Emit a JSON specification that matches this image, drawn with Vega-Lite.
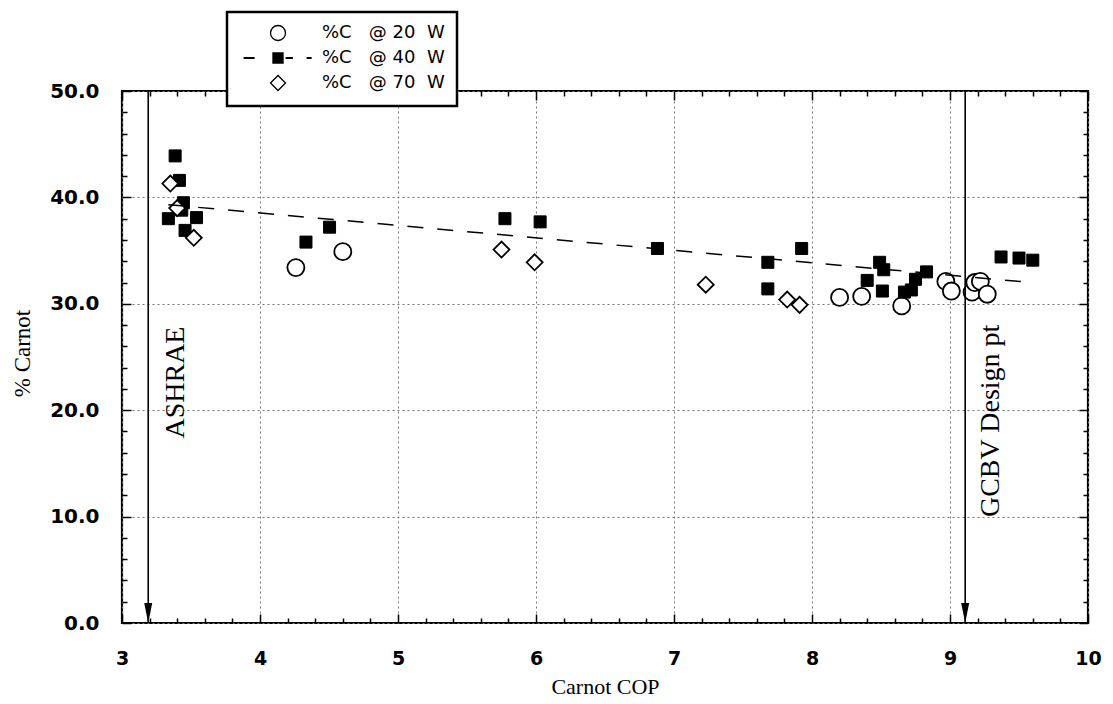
{
  "$schema": "https://vega.github.io/schema/vega-lite/v6.json",
  "width": 966,
  "height": 532,
  "autosize": "none",
  "padding": {"left": 122, "top": 91, "right": 25, "bottom": 81},
  "background": "white",
  "config": {
    "view": {"stroke": "black", "strokeWidth": 2.2},
    "font": "Liberation Sans",
    "axis": {"domain": false, "labelColor": "black", "tickColor": "black", "tickWidth": 1.5, "titleColor": "black"}
  },
  "datasets": {
    "pts": [
      {"cop": 4.26, "pct": 33.4, "series": "%C @ 20 W"},
      {"cop": 4.60, "pct": 34.9, "series": "%C @ 20 W"},
      {"cop": 8.20, "pct": 30.6, "series": "%C @ 20 W"},
      {"cop": 8.36, "pct": 30.7, "series": "%C @ 20 W"},
      {"cop": 8.65, "pct": 29.8, "series": "%C @ 20 W"},
      {"cop": 8.97, "pct": 32.1, "series": "%C @ 20 W"},
      {"cop": 9.01, "pct": 31.2, "series": "%C @ 20 W"},
      {"cop": 9.16, "pct": 31.1, "series": "%C @ 20 W"},
      {"cop": 9.18, "pct": 32.0, "series": "%C @ 20 W"},
      {"cop": 9.22, "pct": 32.1, "series": "%C @ 20 W"},
      {"cop": 9.27, "pct": 30.9, "series": "%C @ 20 W"},
      {"cop": 3.385, "pct": 43.9, "series": "%C @ 40 W"},
      {"cop": 3.416, "pct": 41.6, "series": "%C @ 40 W"},
      {"cop": 3.445, "pct": 39.5, "series": "%C @ 40 W"},
      {"cop": 3.433, "pct": 38.8, "series": "%C @ 40 W"},
      {"cop": 3.336, "pct": 38.0, "series": "%C @ 40 W"},
      {"cop": 3.54, "pct": 38.1, "series": "%C @ 40 W"},
      {"cop": 3.457, "pct": 36.9, "series": "%C @ 40 W"},
      {"cop": 4.333, "pct": 35.8, "series": "%C @ 40 W"},
      {"cop": 4.504, "pct": 37.2, "series": "%C @ 40 W"},
      {"cop": 5.775, "pct": 38.0, "series": "%C @ 40 W"},
      {"cop": 6.03, "pct": 37.7, "series": "%C @ 40 W"},
      {"cop": 6.88, "pct": 35.2, "series": "%C @ 40 W"},
      {"cop": 7.68, "pct": 33.9, "series": "%C @ 40 W"},
      {"cop": 7.68, "pct": 31.4, "series": "%C @ 40 W"},
      {"cop": 7.925, "pct": 35.2, "series": "%C @ 40 W"},
      {"cop": 8.40, "pct": 32.2, "series": "%C @ 40 W"},
      {"cop": 8.49, "pct": 33.9, "series": "%C @ 40 W"},
      {"cop": 8.52, "pct": 33.2, "series": "%C @ 40 W"},
      {"cop": 8.51, "pct": 31.2, "series": "%C @ 40 W"},
      {"cop": 8.67, "pct": 31.1, "series": "%C @ 40 W"},
      {"cop": 8.72, "pct": 31.3, "series": "%C @ 40 W"},
      {"cop": 8.75, "pct": 32.3, "series": "%C @ 40 W"},
      {"cop": 8.83, "pct": 33.0, "series": "%C @ 40 W"},
      {"cop": 9.37, "pct": 34.4, "series": "%C @ 40 W"},
      {"cop": 9.50, "pct": 34.3, "series": "%C @ 40 W"},
      {"cop": 9.60, "pct": 34.1, "series": "%C @ 40 W"},
      {"cop": 3.35, "pct": 41.3, "series": "%C @ 70 W"},
      {"cop": 3.40, "pct": 39.0, "series": "%C @ 70 W"},
      {"cop": 3.52, "pct": 36.2, "series": "%C @ 70 W"},
      {"cop": 5.75, "pct": 35.1, "series": "%C @ 70 W"},
      {"cop": 5.99, "pct": 33.9, "series": "%C @ 70 W"},
      {"cop": 7.23, "pct": 31.8, "series": "%C @ 70 W"},
      {"cop": 7.82, "pct": 30.4, "series": "%C @ 70 W"},
      {"cop": 7.91, "pct": 29.9, "series": "%C @ 70 W"}
    ],
    "arrows": [
      {"cop": 3.19, "label": "ASHRAE", "tx": 3.39, "ty": 22.6},
      {"cop": 9.11, "label": "GCBV Design pt", "tx": 9.30, "ty": 19.0}
    ]
  },
  "resolve": {"axis": {"x": "independent", "y": "independent"}},
  "layer": [
    {
      "data": {"name": "pts"},
      "transform": [{"filter": "datum.series === '%C @ 20 W'"}],
      "mark": {"type": "point", "shape": "circle", "size": 290, "filled": true, "fill": "white", "stroke": "black", "strokeWidth": 1.8, "opacity": 1},
      "encoding": {
        "x": {"field": "cop", "type": "quantitative", "scale": {"domain": [3, 10]},
          "axis": {"orient": "bottom", "values": [3, 4, 5, 6, 7, 8, 9, 10], "format": "d", "grid": true, "gridColor": "#777", "gridDash": [2, 3], "gridWidth": 1,
            "tickSize": -9, "labelPadding": 44, "labelBaseline": "middle", "labelFont": "DejaVu Sans", "labelFontWeight": "bold", "labelFontSize": 19,
            "labelFlush": false, "labelOverlap": false,
            "title": "Carnot COP", "titleColor": "black", "titleFont": "Liberation Serif", "titleFontSize": 22, "titleFontWeight": "normal", "titleX": 483, "titleY": 63, "titleBaseline": "middle", "titleAlign": "center"}},
        "y": {"field": "pct", "type": "quantitative", "scale": {"domain": [0, 50]},
          "axis": {"orient": "left", "values": [0, 10, 20, 30, 40, 50], "format": ".1f", "grid": true, "gridColor": "#777", "gridDash": [2, 3], "gridWidth": 1,
            "tickSize": -9, "labelPadding": 32, "labelBaseline": "middle", "labelFont": "DejaVu Sans", "labelFontWeight": "bold", "labelFontSize": 20,
            "labelFlush": false, "labelOverlap": false,
            "title": "% Carnot", "titleColor": "black", "titleFont": "Liberation Serif", "titleFontSize": 23, "titleFontWeight": "normal", "titleX": -100, "titleY": 262, "titleAngle": 270, "titleBaseline": "middle", "titleAlign": "center"}}
      }
    },
    {
      "data": {"name": "pts"},
      "transform": [{"filter": "datum.series === '%C @ 40 W'"}],
      "mark": {"type": "point", "shape": "square", "size": 144, "filled": true, "fill": "black", "stroke": "black", "strokeWidth": 1, "opacity": 1},
      "encoding": {
        "x": {"field": "cop", "type": "quantitative", "scale": {"domain": [3, 10]},
          "axis": {"orient": "bottom", "values": [3.2, 3.4, 3.6, 3.8, 4.2, 4.4, 4.6, 4.8, 5.2, 5.4, 5.6, 5.8, 6.2, 6.4, 6.6, 6.8, 7.2, 7.4, 7.6, 7.8, 8.2, 8.4, 8.6, 8.8, 9.2, 9.4, 9.6, 9.8], "grid": false, "labels": false, "tickSize": -5, "title": null}},
        "y": {"field": "pct", "type": "quantitative", "scale": {"domain": [0, 50]},
          "axis": {"orient": "left", "values": [2, 4, 6, 8, 12, 14, 16, 18, 22, 24, 26, 28, 32, 34, 36, 38, 42, 44, 46, 48], "grid": false, "labels": false, "tickSize": -5, "title": null}}
      }
    },
    {
      "data": {"name": "pts"},
      "transform": [{"filter": "datum.series === '%C @ 70 W'"}],
      "mark": {"type": "point", "shape": "diamond", "size": 256, "filled": true, "fill": "white", "stroke": "black", "strokeWidth": 1.8, "opacity": 1},
      "encoding": {
        "x": {"field": "cop", "type": "quantitative", "scale": {"domain": [3, 10]},
          "axis": {"orient": "top", "values": [3, 4, 5, 6, 7, 8, 9, 10], "grid": false, "labels": false, "tickSize": -9, "title": null}},
        "y": {"field": "pct", "type": "quantitative", "scale": {"domain": [0, 50]},
          "axis": {"orient": "right", "values": [0, 10, 20, 30, 40, 50], "grid": false, "labels": false, "tickSize": -9, "title": null}}
      }
    },
    {
      "data": {"name": "pts"},
      "transform": [
        {"filter": "datum.series === '%C @ 40 W'"},
        {"regression": "pct", "on": "cop"}
      ],
      "mark": {"type": "line", "color": "black", "strokeWidth": 1.5, "strokeDash": [16, 14]},
      "encoding": {
        "x": {"field": "cop", "type": "quantitative", "scale": {"domain": [3, 10]},
          "axis": {"orient": "top", "values": [3.2, 3.4, 3.6, 3.8, 4.2, 4.4, 4.6, 4.8, 5.2, 5.4, 5.6, 5.8, 6.2, 6.4, 6.6, 6.8, 7.2, 7.4, 7.6, 7.8, 8.2, 8.4, 8.6, 8.8, 9.2, 9.4, 9.6, 9.8], "grid": false, "labels": false, "tickSize": -5, "title": null}},
        "y": {"field": "pct", "type": "quantitative", "scale": {"domain": [0, 50]},
          "axis": {"orient": "right", "values": [2, 4, 6, 8, 12, 14, 16, 18, 22, 24, 26, 28, 32, 34, 36, 38, 42, 44, 46, 48], "grid": false, "labels": false, "tickSize": -5, "title": null}}
      }
    },
    {
      "data": {"name": "arrows"},
      "mark": {"type": "rule", "color": "black", "strokeWidth": 1.6},
      "encoding": {
        "x": {"field": "cop", "type": "quantitative", "axis": null}
      }
    },
    {
      "data": {"name": "arrows"},
      "mark": {"type": "point", "shape": "M-0.4,-2L0.4,-2L0,0Z", "size": 400, "filled": true, "fill": "black", "strokeWidth": 0, "opacity": 1},
      "encoding": {
        "x": {"field": "cop", "type": "quantitative", "axis": null},
        "y": {"datum": 0, "type": "quantitative", "axis": null}
      }
    },
    {
      "data": {"name": "arrows"},
      "mark": {"type": "text", "angle": 270, "font": "Liberation Serif", "fontSize": 28, "align": "center", "baseline": "middle", "color": "black"},
      "encoding": {
        "x": {"field": "tx", "type": "quantitative", "axis": null},
        "y": {"field": "ty", "type": "quantitative", "axis": null},
        "text": {"field": "label"}
      }
    },
    {
      "data": {"name": "pts"},
      "mark": {"type": "point", "opacity": 0, "filled": true, "stroke": "black", "strokeWidth": 1.3},
      "encoding": {
        "x": {"field": "cop", "type": "quantitative", "axis": null},
        "y": {"field": "pct", "type": "quantitative", "axis": null},
        "shape": {"field": "series", "type": "nominal",
          "scale": {"domain": ["%C @ 20 W", "%C @ 40 W", "%C @ 70 W"], "range": ["circle", "M-0.67,-0.67H0.67V0.67H-0.67Z M-4.5,-0.06H-3.2V0.06H-4.5Z M1.1,-0.06H1.9V0.06H1.1Z M3.9,-0.06H4.4V0.06H3.9Z", "diamond"]},
          "legend": {"orient": "none", "legendX": 105, "legendY": -79, "title": null, "padding": 12, "symbolOffset": 30, "labelOffset": 35, "rowPadding": 5,
            "symbolSize": 225, "symbolOpacity": 1, "symbolStrokeColor": "black", "symbolStrokeWidth": 1.3, "labelFont": "DejaVu Sans", "labelFontSize": 18, "labelColor": "black", "labelLimit": 0,
            "labelExpr": "replace(replace(datum.label, ' @', '\u00a0\u00a0\u00a0@'), ' W', '\u00a0\u00a0W')",
            "strokeColor": "black", "fillColor": "white",
            "encode": {"symbols": {"update": {"opacity": {"value": 1}, "fillOpacity": {"value": 1}, "strokeOpacity": {"value": 1}, "stroke": {"value": "black"}, "strokeWidth": {"value": 1.3}}},
                       "legend": {"update": {"strokeWidth": {"value": 2.5}}}}}},
        "fill": {"field": "series", "type": "nominal",
          "scale": {"domain": ["%C @ 20 W", "%C @ 40 W", "%C @ 70 W"], "range": ["white", "black", "white"]},
          "legend": {"orient": "none", "legendX": 105, "legendY": -79, "title": null, "padding": 12, "symbolOffset": 30, "labelOffset": 35, "rowPadding": 5,
            "symbolSize": 225, "symbolOpacity": 1, "symbolStrokeColor": "black", "symbolStrokeWidth": 1.3, "labelFont": "DejaVu Sans", "labelFontSize": 18, "labelColor": "black", "labelLimit": 0,
            "labelExpr": "replace(replace(datum.label, ' @', '\u00a0\u00a0\u00a0@'), ' W', '\u00a0\u00a0W')",
            "strokeColor": "black", "fillColor": "white",
            "encode": {"symbols": {"update": {"opacity": {"value": 1}, "fillOpacity": {"value": 1}, "strokeOpacity": {"value": 1}, "stroke": {"value": "black"}, "strokeWidth": {"value": 1.3}}},
                       "legend": {"update": {"strokeWidth": {"value": 2.5}}}}}}
      }
    }
  ]
}
